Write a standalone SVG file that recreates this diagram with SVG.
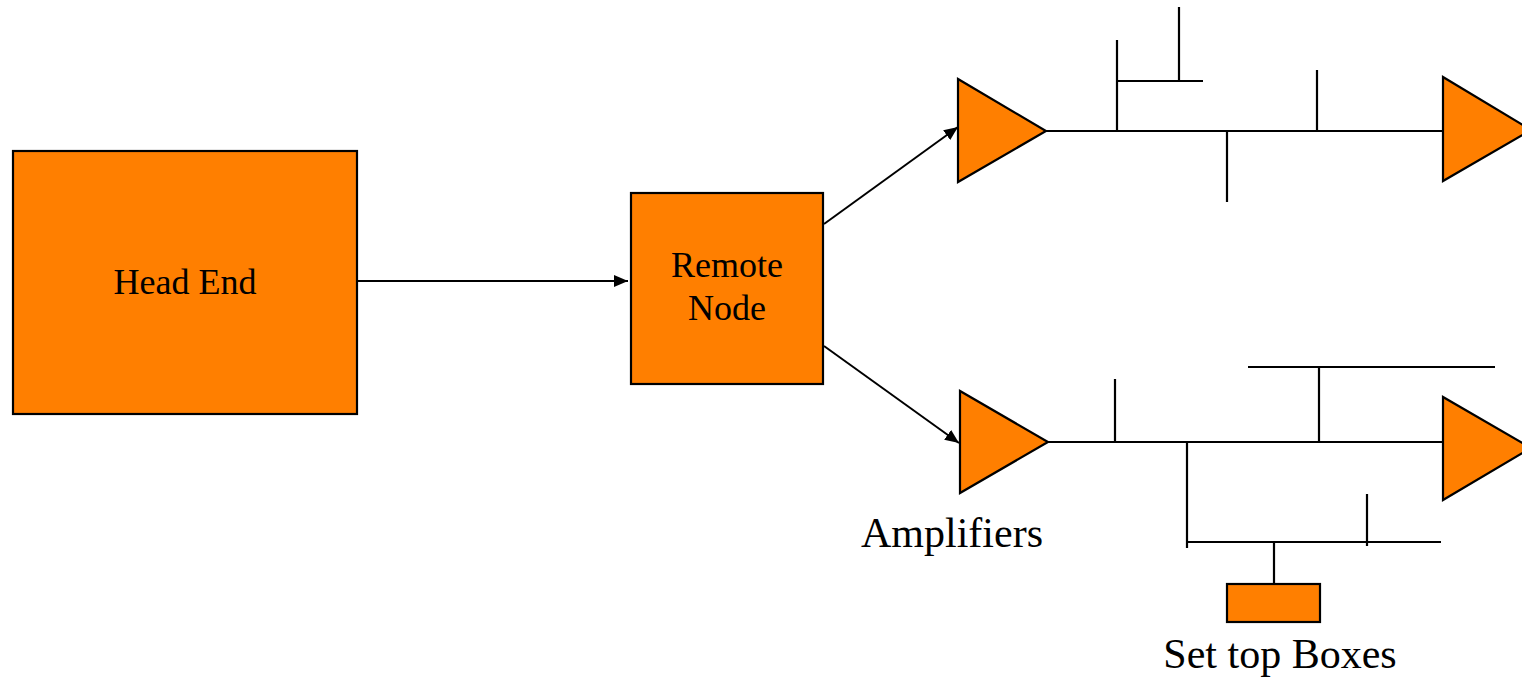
<svg xmlns="http://www.w3.org/2000/svg" width="1522" height="679" viewBox="0 0 1522 679">
<style>
.n{fill:#FF7F00;stroke:#000;stroke-width:2.2}
.l{stroke:#000;stroke-width:2.2;fill:none}
.c{stroke:#000;stroke-width:2;fill:none}
.t{font-family:"Liberation Serif","Times New Roman",serif;fill:#000;text-anchor:middle}
.bt{font-size:36px}
.lt{font-size:42px}
</style>
<defs>
<marker id="ah" viewBox="0 0 14 12" refX="14" refY="6" markerWidth="14" markerHeight="12" markerUnits="userSpaceOnUse" orient="auto"><path d="M0,0 L14,6 L0,12 z" fill="#000"/></marker>
</defs>
<rect width="1522" height="679" fill="#fff"/>
<g id="connectors">
<line class="c" x1="357" y1="281" x2="628" y2="281" marker-end="url(#ah)"/>
<line class="c" x1="824" y1="224" x2="958" y2="127" marker-end="url(#ah)"/>
<line class="c" x1="824" y1="346" x2="959" y2="443" marker-end="url(#ah)"/>
<path class="l" d="M1046,131 H1443 M1117,131 V40 M1117,81 H1203 M1179,81 V7 M1227,131 V202 M1317,131 V70"/>
<path class="l" d="M1048,442 H1443 M1115,442 V379 M1248,367 H1495 M1319,367 V443 M1187,442 V548 M1187,542 H1441 M1367,494 V546 M1274,542 V584"/>
</g>
<g id="head-end">
<rect class="n" x="13" y="151" width="344" height="263"/>
<text class="t bt" x="185" y="294">Head End</text>
</g>
<g id="remote-node">
<rect class="n" x="631" y="193" width="192" height="191"/>
<text class="t bt" x="727" y="277">Remote</text>
<text class="t bt" x="727" y="320">Node</text>
</g>
<g id="amp-top-left"><polygon class="n" points="958,79 958,182 1046,131"/></g>
<g id="amp-bottom-left"><polygon class="n" points="960,391 960,493 1048,442"/></g>
<g id="amp-top-right"><polygon class="n" points="1443,77 1443,181 1531,130"/></g>
<g id="amp-bottom-right"><polygon class="n" points="1443,397 1443,500 1531,448"/></g>
<g id="amplifiers-label"><text class="t lt" x="952" y="547">Amplifiers</text></g>
<g id="set-top-box">
<rect class="n" x="1227" y="584" width="93" height="38"/>
<text class="t lt" x="1280" y="668">Set top Boxes</text>
</g>
</svg>
